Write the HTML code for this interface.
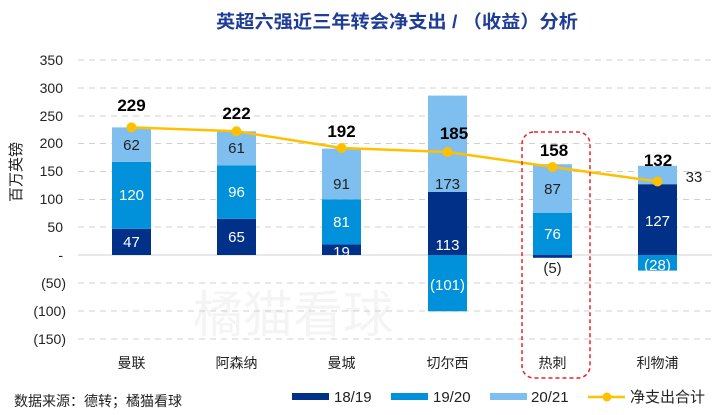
<!DOCTYPE html>
<html><head><meta charset="utf-8"><style>
body{margin:0;background:#fff}
svg{display:block}
text{font-family:"Liberation Sans","Noto Sans CJK SC",sans-serif}
</style></head><body>
<svg width="720" height="415" viewBox="0 0 720 415">
<text x="397" y="28" text-anchor="middle" font-size="18" font-weight="bold" fill="#1f3c96" textLength="362" lengthAdjust="spacingAndGlyphs">英超六强近三年转会净支出 / （收益）分析</text>
<text x="293" y="332" text-anchor="middle" font-size="50" fill="#f4f4f4">橘猫看球</text>
<g stroke="#d0d0d0" stroke-width="1" stroke-dasharray="6,5">
<line x1="78" x2="712" y1="60" y2="60"/><line x1="78" x2="712" y1="88" y2="88"/><line x1="78" x2="712" y1="116" y2="116"/><line x1="78" x2="712" y1="143.5" y2="143.5"/><line x1="78" x2="712" y1="171.5" y2="171.5"/><line x1="78" x2="712" y1="199.5" y2="199.5"/><line x1="78" x2="712" y1="227" y2="227"/><line x1="78" x2="712" y1="283" y2="283"/><line x1="78" x2="712" y1="311" y2="311"/><line x1="78" x2="712" y1="339" y2="339"/>
</g>
<line x1="78" x2="712" y1="255" y2="255" stroke="#d0d0d0"/>
<g font-size="14" fill="#222" text-anchor="end">
<text x="63" y="65">350</text><text x="63" y="93">300</text><text x="63" y="121">250</text><text x="63" y="148">200</text><text x="63" y="176">150</text><text x="63" y="204">100</text><text x="63" y="232">50</text><text x="63" y="260">-</text><text x="66" y="288">(50)</text><text x="66" y="316">(100)</text><text x="66" y="344">(150)</text>
</g>
<text transform="translate(21,172) rotate(-90)" text-anchor="middle" font-size="15" fill="#222">百万英镑</text>
<g>
<rect x="112" y="228.8" width="39" height="26.2" fill="#003087"/><rect x="112" y="161.9" width="39" height="66.9" fill="#0091da"/><rect x="112" y="127.4" width="39" height="34.5" fill="#7fbfef"/>
<rect x="217" y="218.8" width="39" height="36.2" fill="#003087"/><rect x="217" y="165.3" width="39" height="53.5" fill="#0091da"/><rect x="217" y="131.3" width="39" height="34" fill="#7fbfef"/>
<rect x="322" y="244.4" width="39" height="10.6" fill="#003087"/><rect x="322" y="199.3" width="39" height="45.1" fill="#0091da"/><rect x="322" y="148.6" width="39" height="50.7" fill="#7fbfef"/>
<rect x="428" y="192" width="39" height="63" fill="#003087"/><rect x="428" y="255" width="39" height="56.3" fill="#0091da"/><rect x="428" y="95.6" width="39" height="96.4" fill="#7fbfef"/>
<rect x="533" y="255" width="39" height="2.8" fill="#003087"/><rect x="533" y="212.7" width="39" height="42.3" fill="#0091da"/><rect x="533" y="164.2" width="39" height="48.5" fill="#7fbfef"/>
<rect x="638" y="184.2" width="39" height="70.8" fill="#003087"/><rect x="638" y="255" width="39" height="15.6" fill="#0091da"/><rect x="638" y="165.8" width="39" height="18.4" fill="#7fbfef"/>
</g>
<g font-size="15" text-anchor="middle">
<text x="131.5" y="247" fill="#fff">47</text><text x="131.5" y="200" fill="#fff">120</text><text x="131.5" y="150" fill="#222">62</text>
<text x="236.5" y="242" fill="#fff">65</text><text x="236.5" y="197" fill="#fff">96</text><text x="236.5" y="153" fill="#222">61</text>
<text x="341.5" y="257" fill="#fff">19</text><text x="341.5" y="227" fill="#fff">81</text><text x="341.5" y="189" fill="#222">91</text>
<text x="447.5" y="250" fill="#fff">113</text><text x="447.5" y="290" fill="#fff">(101)</text><text x="447.5" y="189" fill="#222">173</text>
<text x="552.5" y="273" fill="#222">(5)</text><text x="552.5" y="239" fill="#fff">76</text><text x="552.5" y="194" fill="#222">87</text>
<text x="657.5" y="226" fill="#fff">127</text><text x="657.5" y="270" fill="#fff">(28)</text><text x="694" y="182" fill="#222" text-anchor="middle">33</text>
</g>
<polyline points="131.5,127.4 236.5,131.3 341.5,148 447.5,152 552.5,167 657.5,181.5" fill="none" stroke="#ffc000" stroke-width="2.5"/>
<g fill="#ffc000">
<circle cx="131.5" cy="127.4" r="5"/><circle cx="236.5" cy="131.3" r="5"/><circle cx="341.5" cy="148" r="5"/><circle cx="447.5" cy="152" r="5"/><circle cx="552.5" cy="167" r="5"/><circle cx="657.5" cy="181.5" r="5"/>
</g>
<g font-size="17" font-weight="bold" text-anchor="middle" fill="#000">
<text x="131.5" y="111">229</text><text x="236.5" y="119">222</text><text x="341.5" y="137">192</text><text x="454" y="139">185</text><text x="554" y="156">158</text><text x="658" y="166">132</text>
</g>
<rect x="522" y="132" width="68" height="246" rx="12" fill="none" stroke="#e8232a" stroke-width="1.5" stroke-dasharray="4,3"/>
<g font-size="14" fill="#222" text-anchor="middle">
<text x="131.5" y="368">曼联</text><text x="236.5" y="368">阿森纳</text><text x="341.5" y="368">曼城</text><text x="447.5" y="368">切尔西</text><text x="552.5" y="368">热刺</text><text x="657.5" y="368">利物浦</text>
</g>
<text x="14" y="406" font-size="14" fill="#222">数据来源：德转；橘猫看球</text>
<g font-size="15" fill="#222">
<rect x="292" y="393" width="37" height="7" fill="#003087"/><text x="334" y="402">18/19</text>
<rect x="391" y="393" width="37" height="7" fill="#0091da"/><text x="433" y="402">19/20</text>
<rect x="490" y="393" width="37" height="7" fill="#7fbfef"/><text x="531" y="402">20/21</text>
<line x1="588" x2="625" y1="397" y2="397" stroke="#ffc000" stroke-width="2.5"/><circle cx="607" cy="397" r="4.5" fill="#ffc000"/><text x="630" y="402">净支出合计</text>
</g>
</svg>
</body></html>
